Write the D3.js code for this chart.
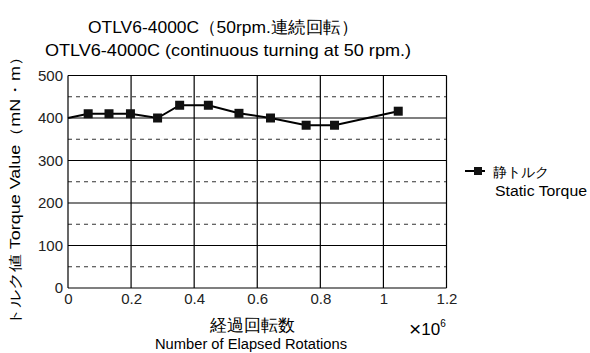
<!DOCTYPE html>
<html>
<head>
<meta charset="utf-8">
<style>
body { margin: 0; background: #fff; }
svg { display: block; font-family: "Liberation Sans", Arial, sans-serif; }
</style>
</head>
<body>
<svg id="chart" width="590" height="353"></svg>
<script src="https://cdn.jsdelivr.net/npm/d3@7"></script>
<script>
// data (rotations in millions, torque in mN·m)
var rotations = [0, 0.064, 0.13, 0.198, 0.284, 0.354, 0.445, 0.542, 0.642, 0.755, 0.845, 1.047];
var torque = [400, 410, 410, 410, 400, 430, 430, 411, 400, 383, 383, 416];
var xTicks = [0, 0.2, 0.4, 0.6, 0.8, 1, 1.2];
var yTicks = [0, 100, 200, 300, 400, 500];
var yMinor = [50, 150, 250, 350, 450];

var svg = d3.select("#chart");
var x = d3.scaleLinear().domain([0, 1.2]).range([68, 446.5]);
var y = d3.scaleLinear().domain([0, 500]).range([288, 75.5]);

// titles
svg.append("text").attr("x", 223).attr("y", 33).attr("text-anchor", "middle")
	.attr("font-size", 17).attr("textLength", 270).attr("lengthAdjust", "spacingAndGlyphs")
	.text("OTLV6-4000C（50rpm.連続回転）");
svg.append("text").attr("x", 228).attr("y", 56).attr("text-anchor", "middle")
	.attr("font-size", 17).attr("textLength", 366).attr("lengthAdjust", "spacingAndGlyphs")
	.text("OTLV6-4000C (continuous turning at 50 rpm.)");

// dashed minor lines
svg.append("g").selectAll("line").data(yMinor).enter().append("line")
	.attr("x1", x(0)).attr("x2", x(1.2))
	.attr("y1", function(d){ return y(d); }).attr("y2", function(d){ return y(d); })
	.attr("stroke", "#333").attr("stroke-width", 1).attr("stroke-dasharray", "4,4");

// solid grid
svg.append("g").selectAll("line").data(yTicks).enter().append("line")
	.attr("x1", x(0)).attr("x2", x(1.2))
	.attr("y1", function(d){ return y(d); }).attr("y2", function(d){ return y(d); })
	.attr("stroke", "#000").attr("stroke-width", 1.2);
svg.append("g").selectAll("line").data(xTicks).enter().append("line")
	.attr("y1", y(0)).attr("y2", y(500))
	.attr("x1", function(d){ return x(d); }).attr("x2", function(d){ return x(d); })
	.attr("stroke", "#000").attr("stroke-width", 1.2);

// axes (labels only)
var yAxis = d3.axisLeft(y).tickValues(yTicks).tickSize(0).tickPadding(5);
var gy = svg.append("g").attr("transform", "translate(" + x(0) + ",0)").call(yAxis);
gy.select(".domain").remove();
gy.selectAll("text").attr("font-size", 15).attr("font-family", "Liberation Sans, Arial, sans-serif").attr("fill", "#222");

var xAxis = d3.axisBottom(x).tickValues(xTicks).tickSize(0).tickPadding(5)
	.tickFormat(function(d){ return d === 0 || d === 1 ? d3.format("d")(d) : d3.format(".1f")(d); });
var gx = svg.append("g").attr("transform", "translate(0," + y(0) + ")").call(xAxis);
gx.select(".domain").remove();
gx.selectAll("text").attr("font-size", 15).attr("font-family", "Liberation Sans, Arial, sans-serif").attr("fill", "#222");

// axis titles
svg.append("text").attr("transform", "translate(20,187) rotate(-90)").attr("text-anchor", "middle")
	.attr("font-size", 14).attr("textLength", 278).attr("lengthAdjust", "spacingAndGlyphs")
	.text("トルク値 Torque Value（mN・m）");
svg.append("text").attr("x", 252).attr("y", 331).attr("text-anchor", "middle").attr("font-size", 17)
	.text("経過回転数");
svg.append("text").attr("x", 251).attr("y", 349).attr("text-anchor", "middle").attr("font-size", 14)
	.attr("textLength", 192).attr("lengthAdjust", "spacingAndGlyphs")
	.text("Number of Elapsed Rotations");
var mult = svg.append("text").attr("x", 409).attr("y", 335).attr("font-size", 17);
mult.append("tspan").attr("font-size", 21).attr("dy", 1).text("×");
mult.append("tspan").attr("dy", -1).text("10");
mult.append("tspan").attr("font-size", 10).attr("dy", -8).text("6");

// series
var pts = rotations.map(function(r, i){ return [r, torque[i]]; });
var line = d3.line().x(function(d){ return x(d[0]); }).y(function(d){ return y(d[1]); });
svg.append("path").datum(pts).attr("d", line).attr("fill", "none").attr("stroke", "#000").attr("stroke-width", 2);
svg.append("g").selectAll("rect").data(pts.slice(1)).enter().append("rect")
	.attr("x", function(d){ return x(d[0]) - 4.5; }).attr("y", function(d){ return y(d[1]) - 4.5; })
	.attr("width", 9).attr("height", 9).attr("fill", "#111");

// legend
var lg = svg.append("g").attr("transform", "translate(465,171)");
lg.append("line").attr("x1", 0).attr("x2", 20).attr("stroke", "#000").attr("stroke-width", 2);
lg.append("rect").attr("x", 9).attr("y", -4).attr("width", 8).attr("height", 8).attr("fill", "#111");
lg.append("text").attr("x", 28).attr("y", 6).attr("font-size", 14).text("静トルク");
lg.append("text").attr("x", 30).attr("y", 25).attr("font-size", 14)
	.attr("textLength", 92).attr("lengthAdjust", "spacingAndGlyphs").text("Static Torque");
</script>
</body>
</html>
